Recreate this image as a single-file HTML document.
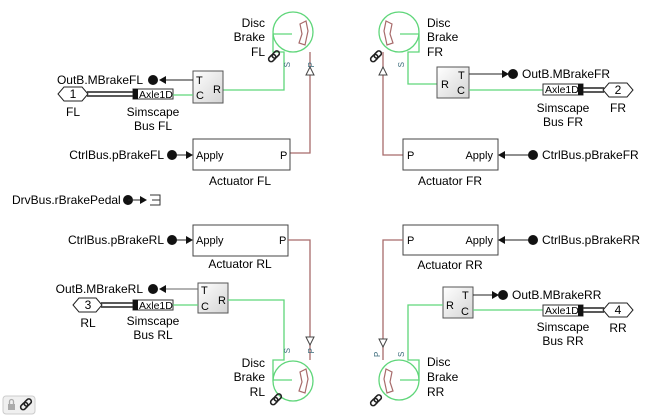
<!DOCTYPE html>
<html><head><meta charset="utf-8"><style>
html,body{margin:0;padding:0;background:#fff;}
svg{display:block;font-family:"Liberation Sans",sans-serif;font-size:12px;}
</style></head><body>
<svg width="651" height="416" viewBox="0 0 651 416" xmlns="http://www.w3.org/2000/svg">
<defs>
<linearGradient id="g" x1="0" y1="0" x2="1" y2="1"><stop offset="0" stop-color="#fff"/><stop offset="1" stop-color="#d4d4d4"/></linearGradient>
<g id="link"><g fill="none" stroke="#222" stroke-width="1.6"><rect x="-6" y="-3" width="8" height="5" rx="2.5" transform="rotate(-45)"/><rect x="-1" y="-3" width="8" height="5" rx="2.5" transform="rotate(-45)"/></g></g>
</defs>
<rect width="651" height="416" fill="#fff"/>

<!-- ===== FL ===== -->
<circle cx="293" cy="32" r="20" fill="none" stroke="#5fd67a" stroke-width="1.3"/>
<path d="M300,24 L306,21 L308,31 L305,45 L299,43 L302,34 Z" fill="none" stroke="#a86b6b" stroke-width="1.2"/>
<path d="M292,34 H273 V52 H284 V90 H223" fill="none" stroke="#5fd67a" stroke-width="1.3"/>
<path d="M310,52 V153 H290" fill="none" stroke="#a86b6b" stroke-width="1.3"/>
<path d="M306,75 L314,75 L310,67 Z" fill="#fff" stroke="#444"/>
<text x="290" y="62" font-size="8" fill="#3a6a7a" transform="rotate(-90 290 62)" text-anchor="end">S</text>
<text x="314" y="62" font-size="8" fill="#3a6a7a" transform="rotate(-90 314 62)" text-anchor="end">P</text>
<use href="#link" x="274" y="57"/>
<text x="265" y="27" text-anchor="end">Disc</text><text x="265" y="41" text-anchor="end">Brake</text><text x="265" y="56" text-anchor="end">FL</text>
<rect x="193" y="71" width="30" height="32" fill="url(#g)" stroke="#555"/>
<text x="196" y="84" font-size="11">T</text><text x="196" y="99" font-size="11">C</text><text x="213" y="93" font-size="11">R</text>
<line x1="193" y1="80" x2="165" y2="80" stroke="#222"/><path d="M159,80 L166,76 L166,84 Z" fill="#111"/>
<circle cx="153" cy="80" r="5" fill="#111"/>
<text x="143" y="84" text-anchor="end">OutB.MBrakeFL</text>
<rect x="133" y="89" width="40" height="10" fill="#fff" stroke="#333"/><rect x="133" y="89" width="5" height="10" fill="#111"/>
<text x="139" y="98" font-size="10.5">Axle1D</text>
<path d="M87,92 H133 M87,96 H133" stroke="#222" stroke-width="1.5"/>
<path d="M58,94 L64,87 H82 L88,94 L82,101 H64 Z" fill="#fff" stroke="#222"/>
<text x="73" y="98" text-anchor="middle">1</text>
<text x="73" y="116" text-anchor="middle">FL</text>
<text x="153" y="116" text-anchor="middle">Simscape</text><text x="153" y="130" text-anchor="middle">Bus FL</text>
<line x1="173" y1="95" x2="193" y2="95" stroke="#5fd67a" stroke-width="1.3"/>
<rect x="193" y="139" width="97" height="31" fill="#fff" stroke="#444"/>
<text x="196" y="159" font-size="11">Apply</text><text x="280" y="159" font-size="11">P</text>
<text x="240" y="185" text-anchor="middle">Actuator FL</text>
<line x1="172" y1="155" x2="188" y2="155" stroke="#222"/><path d="M193,155 L186,151 L186,159 Z" fill="#111"/>
<circle cx="172" cy="155" r="5" fill="#111"/>
<text x="164" y="159" text-anchor="end">CtrlBus.pBrakeFL</text>

<!-- DrvBus -->
<text x="12" y="204">DrvBus.rBrakePedal</text>
<circle cx="128" cy="200" r="5" fill="#111"/><line x1="128" y1="200" x2="142" y2="200" stroke="#222"/><path d="M147,200 L140,196 L140,204 Z" fill="#111"/>
<path d="M150,195 H160 V205 H150 M152,200 H160" fill="none" stroke="#333"/>

<!-- ===== RL ===== -->
<rect x="193" y="225" width="95" height="31" fill="#fff" stroke="#444"/>
<text x="196" y="244" font-size="11">Apply</text><text x="279" y="244" font-size="11">P</text>
<text x="240" y="268" text-anchor="middle">Actuator RL</text>
<line x1="172" y1="240" x2="188" y2="240" stroke="#222"/><path d="M193,240 L186,236 L186,244 Z" fill="#111"/>
<circle cx="172" cy="240" r="5" fill="#111"/>
<text x="164" y="244" text-anchor="end">CtrlBus.pBrakeRL</text>
<path d="M288,240 H310 V360" fill="none" stroke="#a86b6b" stroke-width="1.3"/>
<path d="M306,337 L314,337 L310,345 Z" fill="#fff" stroke="#444"/>
<rect x="198" y="283" width="30" height="30" fill="url(#g)" stroke="#555"/>
<text x="201" y="294" font-size="11">T</text><text x="201" y="310" font-size="11">C</text><text x="218" y="304" font-size="11">R</text>
<line x1="198" y1="289" x2="165" y2="289" stroke="#666"/><path d="M159,289 L166,285 L166,293 Z" fill="#111"/>
<circle cx="153" cy="289" r="5" fill="#111"/>
<text x="143" y="293" text-anchor="end">OutB.MBrakeRL</text>
<rect x="133" y="300" width="40" height="10" fill="#fff" stroke="#333"/><rect x="133" y="300" width="5" height="10" fill="#111"/>
<text x="139" y="309" font-size="10.5">Axle1D</text>
<path d="M101,303 H133 M101,307 H133" stroke="#222" stroke-width="1.5"/>
<path d="M73,305 L79,298 H96 L102,305 L96,312 H79 Z" fill="#fff" stroke="#222"/>
<text x="88" y="309" text-anchor="middle">3</text>
<text x="88" y="327" text-anchor="middle">RL</text>
<text x="153" y="325" text-anchor="middle">Simscape</text><text x="153" y="339" text-anchor="middle">Bus RL</text>
<line x1="173" y1="305" x2="198" y2="305" stroke="#5fd67a" stroke-width="1.3"/>
<path d="M228,300 H284 V360 H273 V380 H292" fill="none" stroke="#5fd67a" stroke-width="1.3"/>
<circle cx="293" cy="381" r="20" fill="none" stroke="#5fd67a" stroke-width="1.3"/>
<path d="M300,372 L306,369 L308,379 L305,393 L299,391 L302,382 Z" fill="none" stroke="#a86b6b" stroke-width="1.2"/>
<text x="290" y="348" font-size="8" fill="#3a6a7a" transform="rotate(-90 290 348)" text-anchor="end">S</text>
<text x="314" y="348" font-size="8" fill="#3a6a7a" transform="rotate(-90 314 348)" text-anchor="end">P</text>
<use href="#link" x="276" y="400"/>
<text x="265" y="367" text-anchor="end">Disc</text><text x="265" y="381" text-anchor="end">Brake</text><text x="265" y="396" text-anchor="end">RL</text>

<!-- ===== FR ===== -->
<circle cx="399" cy="32" r="20" fill="none" stroke="#5fd67a" stroke-width="1.3"/>
<path d="M392,24 L386,21 L384,31 L387,45 L393,43 L390,34 Z" fill="none" stroke="#a86b6b" stroke-width="1.2"/>
<path d="M400,34 H419 V52 H408 V84 H437" fill="none" stroke="#5fd67a" stroke-width="1.3"/>
<path d="M383,52 V155 H403" fill="none" stroke="#a86b6b" stroke-width="1.3"/>
<path d="M379,75 L387,75 L383,67 Z" fill="#fff" stroke="#444"/>
<text x="404" y="62" font-size="8" fill="#3a6a7a" transform="rotate(-90 404 62)" text-anchor="end">S</text>
<use href="#link" x="376" y="57"/>
<text x="427" y="27">Disc</text><text x="427" y="41">Brake</text><text x="427" y="56">FR</text>
<rect x="437" y="67" width="32" height="31" fill="url(#g)" stroke="#555"/>
<text x="458" y="79" font-size="11">T</text><text x="457" y="94" font-size="11">C</text><text x="441" y="88" font-size="11">R</text>
<line x1="469" y1="74" x2="503" y2="74" stroke="#222"/><path d="M509,74 L502,70 L502,78 Z" fill="#111"/>
<circle cx="513" cy="74" r="5" fill="#111"/>
<text x="522" y="78">OutB.MBrakeFR</text>
<line x1="469" y1="90" x2="543" y2="90" stroke="#5fd67a" stroke-width="1.3"/>
<rect x="543" y="84" width="40" height="11" fill="#fff" stroke="#333"/><rect x="578" y="84" width="5" height="11" fill="#111"/>
<text x="545" y="93" font-size="10.5">Axle1D</text>
<path d="M583,88 H604 M583,92 H604" stroke="#222" stroke-width="1.5"/>
<path d="M603,90 L609,83 H627 L633,90 L627,97 H609 Z" fill="#fff" stroke="#222"/>
<text x="618" y="94" text-anchor="middle">2</text>
<text x="618" y="112" text-anchor="middle">FR</text>
<text x="563" y="112" text-anchor="middle">Simscape</text><text x="563" y="126" text-anchor="middle">Bus FR</text>
<rect x="403" y="139" width="95" height="31" fill="#fff" stroke="#444"/>
<text x="407" y="159" font-size="11">P</text><text x="493" y="159" font-size="11" text-anchor="end">Apply</text>
<text x="450" y="185" text-anchor="middle">Actuator FR</text>
<line x1="533" y1="155" x2="503" y2="155" stroke="#222"/><path d="M498,155 L505,151 L505,159 Z" fill="#111"/>
<circle cx="533" cy="155" r="5" fill="#111"/>
<text x="542" y="159">CtrlBus.pBrakeFR</text>

<!-- ===== RR ===== -->
<rect x="403" y="225" width="95" height="30" fill="#fff" stroke="#444"/>
<text x="407" y="244" font-size="11">P</text><text x="493" y="244" font-size="11" text-anchor="end">Apply</text>
<text x="450" y="269" text-anchor="middle">Actuator RR</text>
<line x1="533" y1="240" x2="503" y2="240" stroke="#222"/><path d="M498,240 L505,236 L505,244 Z" fill="#111"/>
<circle cx="533" cy="240" r="5" fill="#111"/>
<text x="542" y="244">CtrlBus.pBrakeRR</text>
<path d="M403,240 H383 V360" fill="none" stroke="#a86b6b" stroke-width="1.3"/>
<path d="M379,339 L387,339 L383,347 Z" fill="#fff" stroke="#444"/>
<rect x="443" y="287" width="30" height="31" fill="url(#g)" stroke="#555"/>
<text x="462" y="299" font-size="11">T</text><text x="461" y="315" font-size="11">C</text><text x="446" y="309" font-size="11">R</text>
<line x1="473" y1="295" x2="493" y2="295" stroke="#222"/><path d="M499,295 L492,291 L492,299 Z" fill="#111"/>
<circle cx="503" cy="295" r="5" fill="#111"/>
<text x="512" y="299">OutB.MBrakeRR</text>
<line x1="473" y1="310" x2="543" y2="310" stroke="#5fd67a" stroke-width="1.3"/>
<rect x="543" y="305" width="40" height="11" fill="#fff" stroke="#333"/><rect x="578" y="305" width="5" height="11" fill="#111"/>
<text x="545" y="314" font-size="10.5">Axle1D</text>
<path d="M583,308 H604 M583,312 H604" stroke="#222" stroke-width="1.5"/>
<path d="M603,310 L609,303 H627 L633,310 L627,317 H609 Z" fill="#fff" stroke="#222"/>
<text x="618" y="314" text-anchor="middle">4</text>
<text x="618" y="332" text-anchor="middle">RR</text>
<text x="563" y="331" text-anchor="middle">Simscape</text><text x="563" y="345" text-anchor="middle">Bus RR</text>
<path d="M443,305 H408 V360 H419 V380 H400" fill="none" stroke="#5fd67a" stroke-width="1.3"/>
<circle cx="399" cy="380" r="20" fill="none" stroke="#5fd67a" stroke-width="1.3"/>
<path d="M392,372 L386,369 L384,379 L387,393 L393,391 L390,382 Z" fill="none" stroke="#a86b6b" stroke-width="1.2"/>
<text x="404" y="357" font-size="8" fill="#3a6a7a" transform="rotate(-90 404 357)">S</text>
<text x="380" y="357" font-size="8" fill="#3a6a7a" transform="rotate(-90 380 357)">P</text>
<use href="#link" x="376" y="401"/>
<text x="427" y="366">Disc</text><text x="427" y="381">Brake</text><text x="427" y="396">RR</text>

<!-- lock/link badge -->
<rect x="3" y="396" width="32" height="18" rx="3" fill="#f0f0f0" stroke="#ccc"/>
<rect x="8" y="404" width="7" height="6" fill="#aaa"/><path d="M9.5,404 V401.5 a2,2 0 0 1 4,0 V404" fill="none" stroke="#aaa" stroke-width="1.3"/>
<use href="#link" x="26" y="405"/>
</svg>
</body></html>
